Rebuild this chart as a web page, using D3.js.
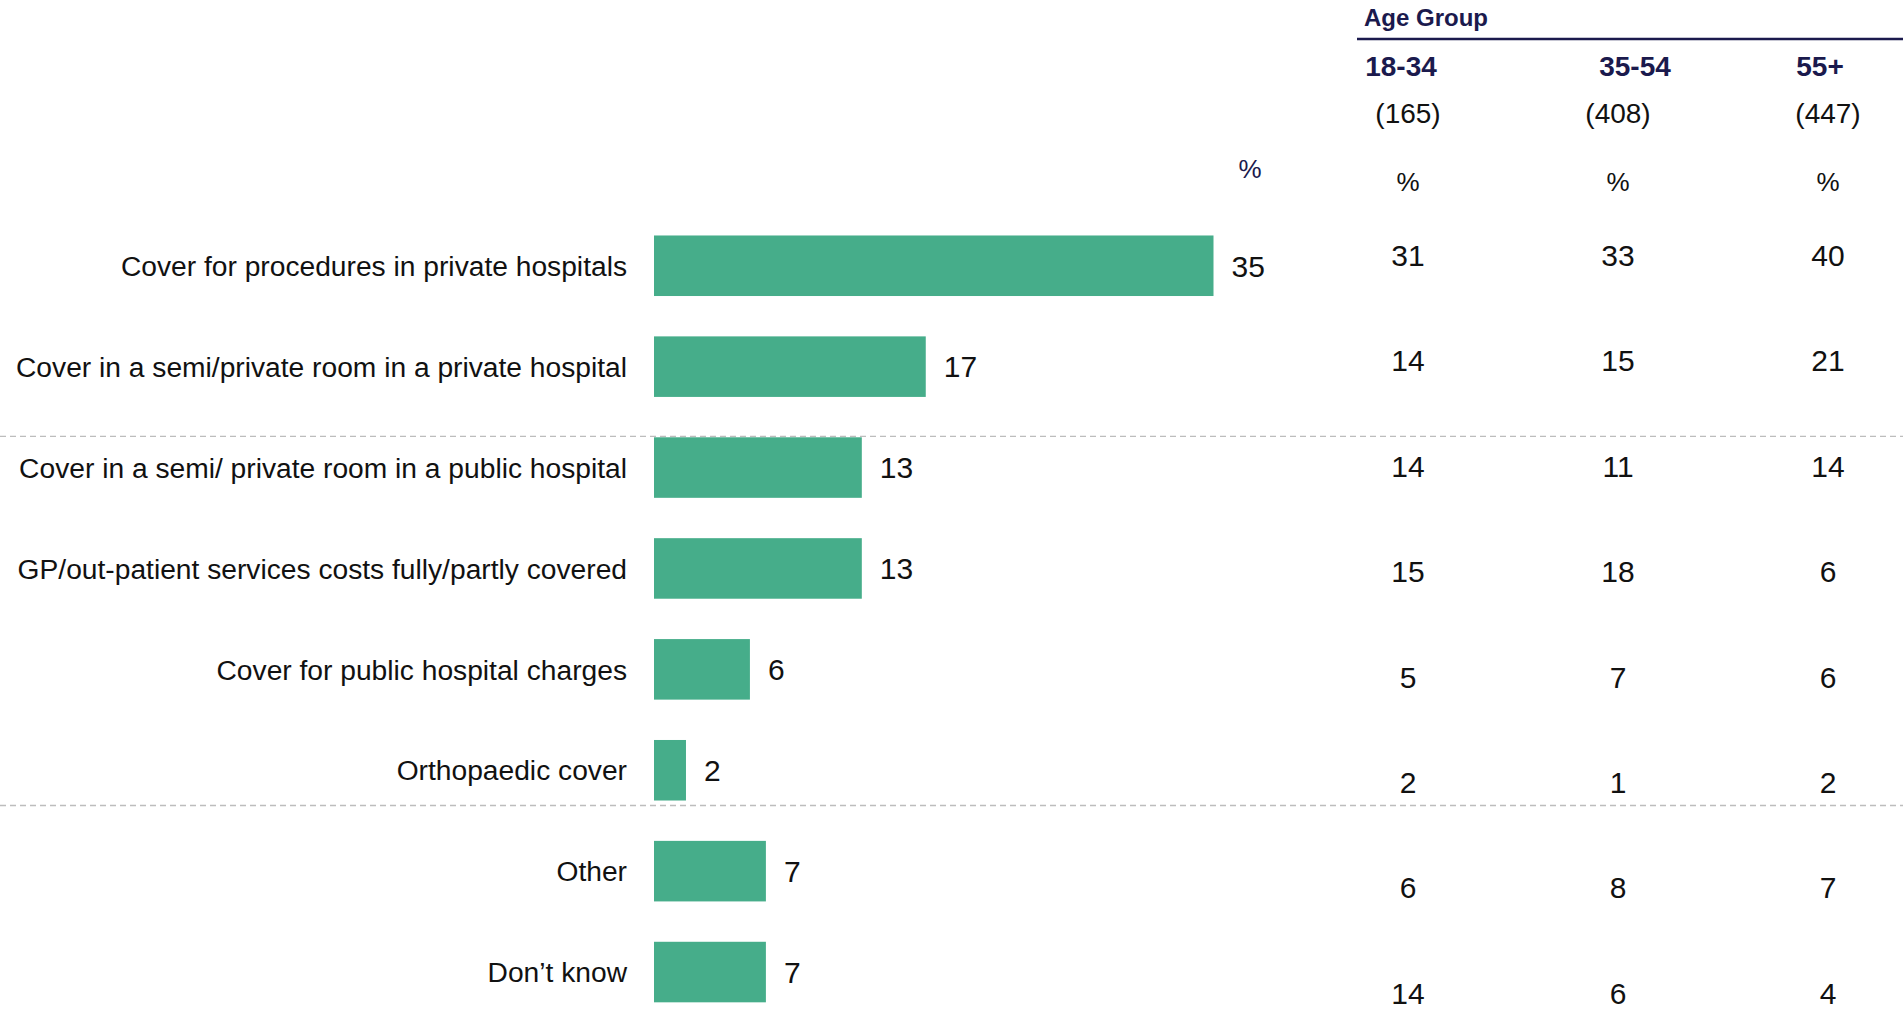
<!DOCTYPE html>
<html><head><meta charset="utf-8">
<script src="https://cdn.jsdelivr.net/npm/d3@7"></script>
<style>
html,body{margin:0;padding:0;background:#fff;}
svg{display:block;}
text{font-family:"Liberation Sans",Arial,sans-serif;}
</style></head>
<body>
<script>
const categories = [
  "Cover for procedures in private hospitals",
  "Cover in a semi/private room in a private hospital",
  "Cover in a semi/ private room in a public hospital",
  "GP/out-patient services costs fully/partly covered",
  "Cover for public hospital charges",
  "Orthopaedic cover",
  "Other",
  "Don\u2019t know"
];
const totalValues = [35, 17, 13, 13, 6, 2, 7, 7];
const ageGroups = ["18-34", "35-54", "55+"];
const ageBases = ["(165)", "(408)", "(447)"];
const age1834 = [31, 14, 14, 15, 5, 2, 6, 14];
const age3554 = [33, 15, 11, 18, 7, 1, 8, 6];
const age55plus = [40, 21, 14, 6, 6, 2, 7, 4];

const W = 1903, H = 1010;
const navy = "#1b1a4d", green = "#46ad8a";
const svg = d3.select("body").append("svg").attr("width", W).attr("height", H);

const x = d3.scaleLinear().domain([0, 35]).range([654, 1213.5]);
const y = d3.scaleBand().domain(categories).range([215.3, 1022.5]).paddingInner(0.4).paddingOuter(0.2);
const yt = d3.scalePoint().domain(categories).range([255, 993]);

// separators
const sepY = [y(categories[2]) - 1, y(categories[5]) + y.bandwidth() + 5];
svg.selectAll("line.sep").data(sepY).enter().append("line")
  .attr("x1", 0).attr("x2", W).attr("y1", d => d).attr("y2", d => d)
  .attr("stroke", "#bdbdbd").attr("stroke-width", 1.3).attr("stroke-dasharray", "6,4");

// bars
svg.selectAll("rect.bar").data(categories).enter().append("rect")
  .attr("x", x(0)).attr("y", d => y(d))
  .attr("width", (d, i) => x(totalValues[i]) - x(0))
  .attr("height", y.bandwidth()).attr("fill", green);

// category labels
svg.selectAll("text.cat").data(categories).enter().append("text")
  .attr("x", 627).attr("y", d => y(d) + y.bandwidth() / 2).attr("dy", "0.36em")
  .attr("text-anchor", "end").attr("font-size", 28.2).attr("fill", "#111").text(d => d);

// value labels
svg.selectAll("text.val").data(categories).enter().append("text")
  .attr("x", (d, i) => x(totalValues[i]) + 18).attr("y", d => y(d) + y.bandwidth() / 2).attr("dy", "0.36em")
  .attr("font-size", 30).attr("fill", "#111").text((d, i) => totalValues[i]);

svg.append("text").attr("x", 1250).attr("y", 169).attr("dy", "0.36em").attr("text-anchor", "middle")
  .attr("font-size", 26).attr("fill", navy).text("%");

// table header
svg.append("text").attr("x", 1364).attr("y", 17).attr("dy", "0.36em")
  .attr("font-size", 24).attr("font-weight", "bold").attr("fill", navy).text("Age Group");
svg.append("line").attr("x1", 1357).attr("x2", W).attr("y1", 39).attr("y2", 39)
  .attr("stroke", navy).attr("stroke-width", 2.5);

const colX = [1408, 1618, 1828];
const headX = [1401, 1635, 1820];
svg.selectAll("text.ag").data(ageGroups).enter().append("text")
  .attr("x", (d, i) => headX[i]).attr("y", 65.5).attr("dy", "0.36em").attr("text-anchor", "middle")
  .attr("font-size", 28).attr("font-weight", "bold").attr("fill", navy).text(d => d);
svg.selectAll("text.base").data(ageBases).enter().append("text")
  .attr("x", (d, i) => colX[i]).attr("y", 113).attr("dy", "0.36em").attr("text-anchor", "middle")
  .attr("font-size", 28).attr("fill", "#111").text(d => d);
svg.selectAll("text.pct").data(ageGroups).enter().append("text")
  .attr("x", (d, i) => colX[i]).attr("y", 182).attr("dy", "0.36em").attr("text-anchor", "middle")
  .attr("font-size", 26).attr("fill", "#111").text("%");

const cols = [age1834, age3554, age55plus];
cols.forEach((vals, ci) => {
  svg.selectAll("text.c" + ci).data(categories).enter().append("text")
    .attr("x", colX[ci]).attr("y", d => yt(d)).attr("dy", "0.36em").attr("text-anchor", "middle")
    .attr("font-size", 30).attr("fill", "#111").text((d, i) => vals[i]);
});
</script>
</body></html>
